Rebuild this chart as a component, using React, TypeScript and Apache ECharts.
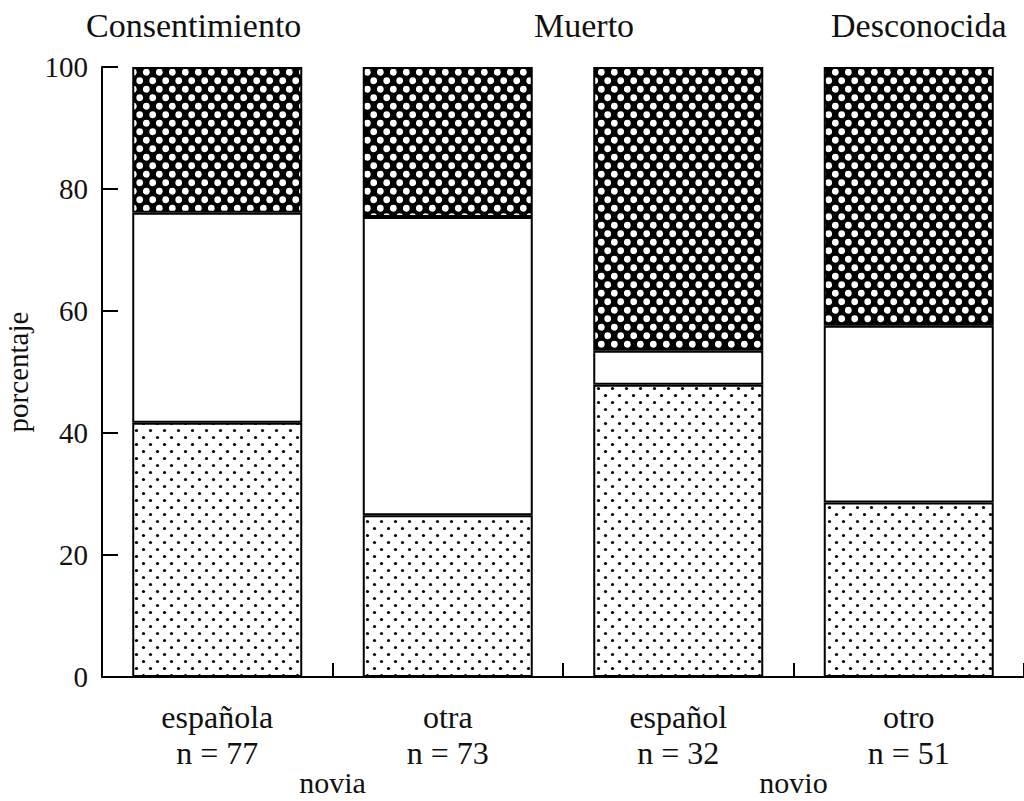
import React, { useEffect, useRef } from "react";
import * as echarts from "echarts";

const categories = ["española", "otra", "español", "otro"];
const sampleSizes = [77, 73, 32, 51];
const groups = ["novia", "novio"];
const seriesNames = ["Consentimiento", "Muerto", "Desconocida"];
const consentimiento = [41.7, 26.5, 47.9, 28.6];
const muerto = [34.4, 48.9, 5.6, 29.0];
const desconocida = [23.9, 24.6, 46.5, 42.4];

const FONT = "Liberation Serif";

function makePattern(bg: string, dot: string, w: number, h: number, r: number) {
  const c = document.createElement("canvas");
  c.width = w;
  c.height = h;
  const ctx = c.getContext("2d")!;
  ctx.fillStyle = bg;
  ctx.fillRect(0, 0, w, h);
  ctx.fillStyle = dot;
  [
    [w / 4, h / 4],
    [(3 * w) / 4, (3 * h) / 4],
  ].forEach(([x, y]) => {
    ctx.beginPath();
    ctx.arc(x, y, r, 0, Math.PI * 2);
    ctx.fill();
  });
  return { image: c.toDataURL(), repeat: "repeat", imageWidth: w, imageHeight: h };
}

export default function App() {
  const ref = useRef<HTMLDivElement>(null);
  useEffect(() => {
    if (!ref.current) return;
    const chart = echarts.init(ref.current, undefined, { renderer: "svg" });
    const light = makePattern("#ffffff", "#000000", 14, 14, 1.6);
    const dark = makePattern("#000000", "#ffffff", 13, 17, 3.4);
    const fills = [light, "#ffffff", dark];
    const values = [consentimiento, muerto, desconocida];
    const legendLefts = [80, 528, 825];
    const option: any = {
      animation: false,
      backgroundColor: "#ffffff",
      legend: seriesNames.map((n, i) => ({
        data: [n],
        left: legendLefts[i],
        top: 8,
        padding: 0,
        itemWidth: 0,
        itemHeight: 0,
        itemGap: 0,
        selectedMode: false,
        textStyle: { fontFamily: FONT, fontSize: 34, color: "#111", padding: [0, 0, 0, 0] },
      })),
      grid: { left: 102, right: 0, top: 67, bottom: 124, outerBoundsMode: "none", containLabel: false },
      xAxis: [
        {
          type: "category",
          data: categories,
          axisLine: { lineStyle: { color: "#000", width: 2 } },
          axisTick: { show: true, inside: true, length: 14, lineStyle: { color: "#000", width: 2 } },
          axisLabel: {
            margin: 22,
            fontFamily: FONT,
            fontSize: 32,
            color: "#111",
            lineHeight: 36,
            formatter: (v: string, i: number) => `${v}\nn = ${sampleSizes[i]}`,
          },
        },
        {
          type: "category",
          data: groups,
          position: "bottom",
          axisLine: { show: false },
          axisTick: { show: false },
          axisLabel: { margin: 90, fontFamily: FONT, fontSize: 30, lineHeight: 30, color: "#111" },
        },
      ],
      yAxis: {
        type: "value",
        min: 0,
        max: 100,
        interval: 20,
        name: "porcentaje",
        nameLocation: "middle",
        nameGap: 70,
        nameRotate: 90,
        nameTextStyle: { fontFamily: FONT, fontSize: 29, lineHeight: 29, color: "#111" },
        axisLine: { show: true, lineStyle: { color: "#000", width: 2 } },
        axisTick: { show: true, inside: true, length: 16, lineStyle: { color: "#000", width: 2 } },
        splitLine: { show: false },
        axisLabel: { margin: 14, fontFamily: FONT, fontSize: 29, color: "#111" },
      },
      series: seriesNames.map((n, i) => ({
        name: n,
        type: "bar",
        stack: "total",
        barWidth: 170,
        xAxisIndex: 0,
        data: values[i],
        itemStyle: { color: fills[i], borderColor: "#000", borderWidth: 2 },
      })),
    };
    chart.setOption(option);
    return () => chart.dispose();
  }, []);
  return (
    <div
      ref={ref}
      style={{ position: "absolute", left: 0, top: 0, width: 1024, height: 801 }}
    />
  );
}
